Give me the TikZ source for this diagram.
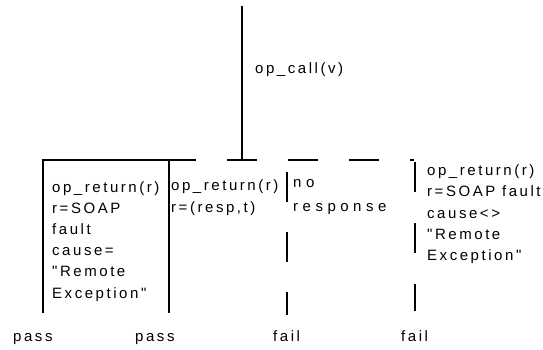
\documentclass[tikz,border=0pt]{standalone}
\usepackage{fontspec}
\newfontfamily\letra{Liberation Sans}[LetterSpace=17]
\newfontfamily\letraancha{Liberation Sans}[LetterSpace=30]
\usepackage{tikz}
\tikzstyle{traza} = [line width=2.6pt]
\tikzstyle{trazarota} = [line width=2.6pt, dash pattern=on 30pt off 31pt]
\tikzstyle{texto} = [inner sep=0pt, align=left, anchor=base west, font=\letra\fontsize{15}{21.2}\selectfont]

\begin{document}
\begin{tikzpicture}[x=1pt,y=-1pt]
  \useasboundingbox (0,0) rectangle (543,350);
  % puntos de la traza
  \coordinate (arriba) at (242,6);
  \coordinate (cruce) at (242,160);
  \coordinate (esqizq) at (43,160);
  \coordinate (pieizq) at (43,313);
  \coordinate (finsolido) at (196,160);
  \coordinate (esqder) at (169,160);
  \coordinate (pieder) at (169,313);
  \coordinate (iniciorota) at (227,160);
  \coordinate (finrota) at (414,160);
  \coordinate (topfallo1) at (287,172);
  \coordinate (piefallo1) at (287,315);
  \coordinate (topfallo2) at (415,162);
  \coordinate (piefallo2) at (415,311);

  \draw[traza] (arriba) -- (cruce);
  \draw[traza] (pieizq) -- (esqizq) -- (finsolido);
  \draw[traza] (esqder) -- (pieder);
  \draw[trazarota] (iniciorota) -- (finrota);
  \draw[trazarota, dash pattern=on 30pt off 30pt] (topfallo1) -- (piefallo1);
  \draw[trazarota] (topfallo2) -- (piefallo2);

  % textos (anclados en la ultima linea)
  \node[texto] (llamada) at (255,74) {op\_call(v)};
  \node[texto] (falla) at (52,298) {op\_return(r)\\r=SOAP\\fault\\cause=\\"Remote\\Exception"};
  \node[texto] (respuesta) at (171,212) {op\_return(r)\\r=(resp,t)};
  \node[texto, font=\letraancha\fontsize{15}{24}\selectfont] (sinresp) at (293,211) {no\\response};
  \node[texto] (otrafalla) at (427,260.5) {op\_return(r)\\r=SOAP fault\\cause<>\\"Remote\\Exception"};

  % veredictos
  \node[texto] (pasa1) at (13,341) {pass};
  \node[texto] (pasa2) at (135,341) {pass};
  \node[texto] (falla1) at (273,341) {fail};
  \node[texto] (falla2) at (401,341) {fail};
\end{tikzpicture}
\end{document}
